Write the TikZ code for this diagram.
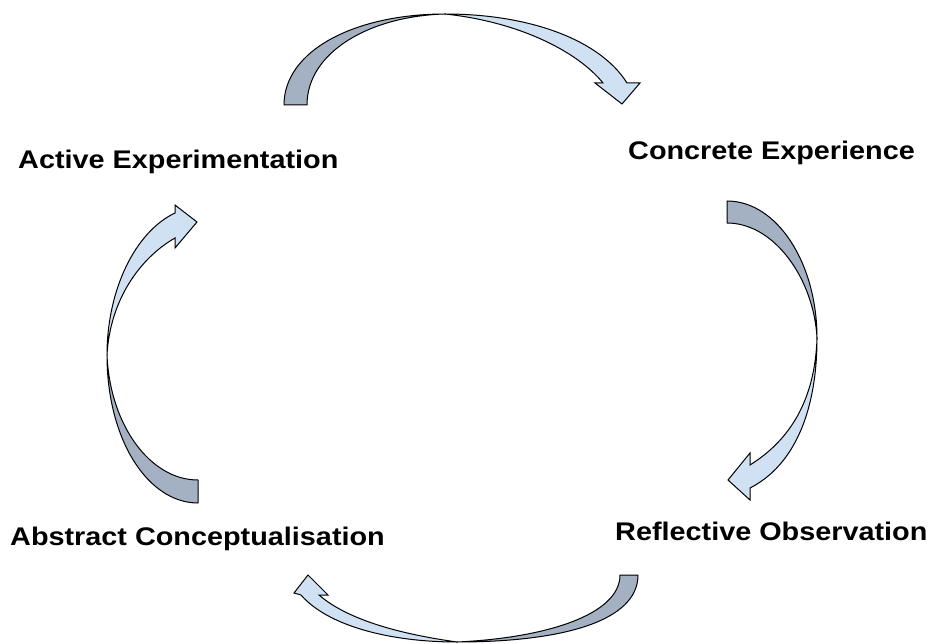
\documentclass[tikz,border=0pt]{standalone}
\usepackage{fontspec}
\setmainfont{Liberation Sans}
\definecolor{arrdark}{RGB}{163,177,194}
\definecolor{arrlight}{RGB}{207,225,243}
\begin{document}
\begin{tikzpicture}[x=1pt,y=-1pt,
  darkpart/.style={fill=arrdark,draw=black,line width=1pt,line join=round},
  lightpart/.style={fill=arrlight,draw=black,line width=1pt,line join=miter},
  stage/.style={anchor=base west,inner sep=0pt,font=\fontsize{25.5}{30}\selectfont\bfseries}]
\useasboundingbox[fill=white] (0,0) rectangle (932,644);

% labels
\node[stage] (ae) at (18,169) {\scalebox{1.13}[1]{Active Experimentation}};
\node[stage] (ce) at (628,160) {\scalebox{1.13}[1]{Concrete Experience}};
\node[stage] (ro) at (615,540) {\scalebox{1.13}[1]{Reflective Observation}};
\node[stage] (ac) at (10,545) {\scalebox{1.13}[1]{Abstract Conceptualisation}};

% top arrow (Active Experimentation -> Concrete Experience)
\draw[darkpart] (284,105) .. controls (284,50) and (356,14) .. (445,14)
  .. controls (370,16) and (307,52) .. (307,105) -- cycle;
\draw[lightpart] (445,14) .. controls (530,14) and (600,40) .. (627,83)
  -- (640,83) -- (622,104) -- (595,83) -- (603,83)
  .. controls (578,52) and (520,22) .. (445,14) -- cycle;

% right arrow (Concrete Experience -> Reflective Observation)
\draw[darkpart] (727,201) .. controls (777,201) and (817,263) .. (817,338)
  .. controls (814,280) and (775,223) .. (727,223) -- cycle;
\draw[lightpart] (817,338) .. controls (817,410) and (795,465) .. (750,488)
  -- (750,500) -- (728,480) -- (750,453) -- (750,465)
  .. controls (790,440) and (815,400) .. (817,338) -- cycle;

% bottom arrow (Reflective Observation -> Abstract Conceptualisation)
\draw[darkpart] (638,575) .. controls (638,622) and (560,642) .. (457,642)
  .. controls (545,638) and (620,615) .. (620,575) -- cycle;
\draw[lightpart] (457,642) .. controls (390,642) and (328,626) .. (301,595)
  -- (294,593) -- (308,575) -- (328,595) -- (319,595)
  .. controls (348,620) and (400,634) .. (457,642) -- cycle;

% left arrow (Abstract Conceptualisation -> Active Experimentation)
\draw[darkpart] (198,503) .. controls (148,503) and (107,440) .. (107,355)
  .. controls (110,425) and (150,480) .. (198,480) -- cycle;
\draw[lightpart] (107,355) .. controls (107,290) and (135,232) .. (175,213)
  -- (175,205) -- (197,222) -- (175,248) -- (175,238)
  .. controls (140,258) and (110,300) .. (107,355) -- cycle;
\end{tikzpicture}
\end{document}
